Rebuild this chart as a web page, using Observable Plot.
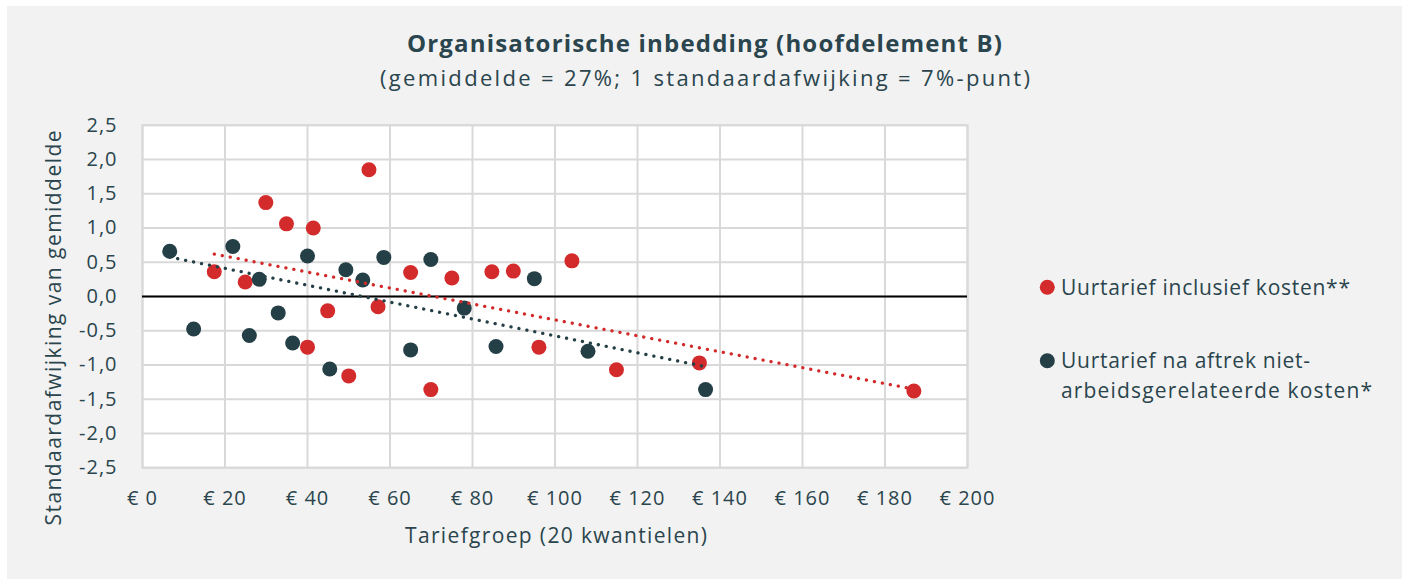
<!DOCTYPE html>
<html><head><meta charset="utf-8">
<script src="https://cdn.jsdelivr.net/npm/d3@7"></script>
<script src="https://cdn.jsdelivr.net/npm/@observablehq/plot@0.6"></script>
<style>
body{margin:0;background:#fff;}
#box{position:absolute;left:7px;top:6px;width:1395px;height:573px;background:#f2f2f2;overflow:hidden;}
#chart{position:absolute;left:0;top:0;}
</style></head><body>
<div id="box"><div id="chart"></div></div>
<script>
const titleText = "Organisatorische inbedding (hoofdelement B)";
const subtitleText = "(gemiddelde = 27%; 1 standaardafwijking = 7%-punt)";
const yTitle = "Standaardafwijking van gemiddelde";
const xTitle = "Tariefgroep (20 kwantielen)";
const seriesNames = ["Uurtarief inclusief kosten**", "Uurtarief na aftrek niet-arbeidsgerelateerde kosten*"];
const legendLines = [["Uurtarief inclusief kosten**"], ["Uurtarief na aftrek niet-", "arbeidsgerelateerde kosten*"]];
const seriesColors = ["#d32b2b", "#243f46"];

// Uurtarief inclusief kosten**
const redX = [17.4, 24.9, 29.9, 34.9, 40.0, 41.4, 44.9, 50.0, 54.9, 57.1, 65.0, 69.9, 75.0, 84.7, 89.9, 96.1, 104.1, 114.9, 135.0, 187.0];
const redY = [0.36, 0.21, 1.37, 1.06, -0.74, 1.00, -0.21, -1.16, 1.85, -0.15, 0.35, -1.36, 0.27, 0.36, 0.37, -0.74, 0.52, -1.07, -0.97, -1.38];

// Uurtarief na aftrek niet-arbeidsgerelateerde kosten*
const darkX = [6.6, 12.4, 21.9, 25.9, 28.3, 32.9, 36.4, 40.0, 45.4, 49.3, 53.4, 58.5, 65.0, 69.9, 78.0, 85.7, 95.0, 108.0, 136.5];
const darkY = [0.66, -0.475, 0.73, -0.57, 0.25, -0.24, -0.68, 0.59, -1.06, 0.39, 0.24, 0.57, -0.78, 0.54, -0.17, -0.73, 0.26, -0.80, -1.36];

// dark trend line (end points)
const darkTrendX = [6.6, 136.5];
const darkTrendY = [0.575, -1.025];

const xTicks = [0, 20, 40, 60, 80, 100, 120, 140, 160, 180, 200];
const yTicks = [2.5, 2.0, 1.5, 1.0, 0.5, 0.0, -0.5, -1.0, -1.5, -2.0, -2.5];

const red = redX.map((x, i) => ({x, y: redY[i]}));
const dark = darkX.map((x, i) => ({x, y: darkY[i]}));
const darkTrend = darkTrendX.map((x, i) => ({x, y: darkTrendY[i]}));

const FONT = "'Open Sans', Lato, sans-serif";
const TXT = "#2a454d";
const W = 1395, H = 573;
const dotted = {strokeWidth: 3.3, strokeDasharray: "0.1 8", strokeLinecap: "round"};

const chart = Plot.plot({
  width: W, height: H,
  marginLeft: 135, marginRight: W - 960, marginTop: 118.7, marginBottom: H - 461.2,
  style: {background: "transparent", fontFamily: FONT, fontSize: "20px", color: TXT, letterSpacing: "1px"},
  x: {domain: [0, 200], ticks: xTicks, tickFormat: d => "€ " + d, tickSize: 0, tickPadding: 23, label: null},
  y: {domain: [-2.5, 2.5], ticks: yTicks, tickFormat: d => d.toFixed(1).replace(".", ","), tickSize: 0, tickPadding: 25, label: null},
  marks: [
    Plot.frame({fill: "white", stroke: null}),
    Plot.gridX(xTicks, {stroke: "#d9d9d9", strokeOpacity: 1, strokeWidth: 2}),
    Plot.gridY(yTicks, {stroke: "#d9d9d9", strokeOpacity: 1, strokeWidth: 2}),
    Plot.frame({stroke: "#d9d9d9", strokeWidth: 2}),
    Plot.ruleY([0], {stroke: "#000", strokeWidth: 2}),
    Plot.dot(red, {x: "x", y: "y", r: 7.5, fill: seriesColors[0], stroke: null}),
    Plot.dot(dark, {x: "x", y: "y", r: 7.5, fill: seriesColors[1], stroke: null}),
    Plot.linearRegressionY(red, {x: "x", y: "y", stroke: seriesColors[0], ci: 0, ...dotted}),
    Plot.line(darkTrend, {x: "x", y: "y", stroke: seriesColors[1], ...dotted})
  ]
});
document.getElementById("chart").appendChild(chart);

// extra text and legend, in box coordinates (page - (7,6))
const svg = d3.select(chart);
function addText(str, x, y, opts) {
  const t = svg.append("text")
    .attr("x", x).attr("y", y)
    .attr("fill", TXT)
    .style("font-family", FONT)
    .style("letter-spacing", "0px")
    .attr("font-size", opts.size)
    .attr("font-weight", opts.weight || 400)
    .attr("text-anchor", opts.anchor || "start")
    .text(str);
  if (opts.len) t.attr("textLength", opts.len).attr("lengthAdjust", "spacing");
  if (opts.rotate) t.attr("transform", `rotate(-90 ${x} ${y})`);
  return t;
}
addText(titleText, 704.5 - 7, 51.5 - 6, {size: 24, weight: 700, anchor: "middle", len: 595});
addText(subtitleText, 705 - 7, 86 - 6, {size: 22, anchor: "middle", len: 650});
addText(yTitle, 61 - 7, 328 - 6, {size: 21, anchor: "middle", len: 395, rotate: true});
addText(xTitle, 556 - 7, 543 - 6, {size: 21, anchor: "middle", len: 302});

const legendItems = [
  {cy: 287.3, baselines: [295], lens: [289]},
  {cy: 360.7, baselines: [368.3, 398.3], lens: [249, 311]}
];
legendItems.forEach((it, i) => {
  svg.append("circle").attr("cx", 1047.3 - 7).attr("cy", it.cy - 6).attr("r", 7.5).attr("fill", seriesColors[i]);
  legendLines[i].forEach((ln, j) => {
    addText(ln, 1061 - 7, it.baselines[j] - 6, {size: 21, len: it.lens[j]});
  });
});
</script>
</body></html>
